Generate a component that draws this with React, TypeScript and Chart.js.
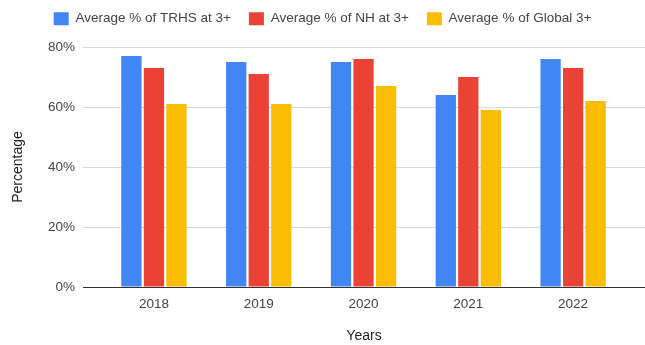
import React, { useEffect, useRef } from "react";
import { Chart, registerables } from "chart.js";

Chart.register(...registerables);

// Survey years and the three averages (percent of students scoring 3+)
const years = ["2018", "2019", "2020", "2021", "2022"];
const trhsAvg = [77, 75, 75, 64, 76];
const nhAvg = [73, 71, 76, 70, 73];
const globalAvg = [61, 61, 67, 59, 62];

const seriesNames = [
  "Average % of TRHS at 3+",
  "Average % of NH at 3+",
  "Average % of Global 3+",
];
const seriesColors = ["#4285F4", "#EA4335", "#FBBC04"];

const yTicks = [0, 20, 40, 60, 80];

const FONT = "'Liberation Sans', Arial, sans-serif";

// Makes the legend reserve extra room underneath it, pushing the plot area down
const legendSpacer = {
  id: "legendSpacer",
  beforeInit(chart: any) {
    const legend = chart.legend;
    if (!legend) return;
    const originalFit = legend.fit;
    legend.fit = function fit() {
      originalFit.bind(legend)();
      this.height = 53;
    };
  },
};

export default function App() {
  const canvasRef = useRef<HTMLCanvasElement | null>(null);

  useEffect(() => {
    if (!canvasRef.current) return;
    const chart = new Chart(canvasRef.current, {
      type: "bar",
      data: {
        labels: years,
        datasets: [trhsAvg, nhAvg, globalAvg].map((values, i) => ({
          label: seriesNames[i],
          data: values,
          backgroundColor: seriesColors[i],
          borderWidth: 0,
          categoryPercentage: 0.645,
          barPercentage: 0.9,
        })),
      },
      options: {
        animation: false,
        responsive: true,
        maintainAspectRatio: false,
        layout: { padding: { top: -6, left: 0, right: 0, bottom: 0 } },
        plugins: {
          tooltip: { enabled: false },
          legend: {
            position: "top",
            labels: {
              boxWidth: 15,
              boxHeight: 13,
              padding: 18,
              color: "#444",
              font: { family: FONT, size: 13.5 },
            },
          },
        },
        scales: {
          x: {
            grid: { display: false, drawTicks: false },
            border: { display: true, color: "#333", width: 1 },
            ticks: {
              color: "#444",
              padding: 9,
              font: { family: FONT, size: 13.5 },
              maxRotation: 0,
            },
            title: {
              display: true,
              text: "Years",
              color: "#222",
              font: { family: FONT, size: 14 },
              padding: { top: 0, bottom: 0 },
            },
            afterFit(scale: any) {
              scale.height = 58;
            },
            // Leave a margin at both ends of the category axis
            afterBuildTicks(scale: any) {
              scale._startValue = -0.677;
              scale._valueRange = 5.363;
            },
          },
          y: {
            min: 0,
            max: 80,
            afterBuildTicks(scale: any) {
              scale.ticks = yTicks.map((value) => ({ value }));
            },
            grid: {
              drawTicks: false,
              color: (ctx: any) => (ctx.tick && ctx.tick.value === 0 ? "#333" : "#d9d9d9"),
            },
            border: { display: false },
            ticks: {
              color: "#444",
              padding: 8,
              font: { family: FONT, size: 13.5 },
              callback: (v: any) => `${v}%`,
            },
            title: {
              display: true,
              text: "Percentage",
              color: "#222",
              font: { family: FONT, size: 14 },
              padding: { top: 10, bottom: 0 },
            },
            afterFit(scale: any) {
              scale.width = 83;
            },
          },
        },
      },
      plugins: [legendSpacer],
    });
    return () => chart.destroy();
  }, []);

  return (
    <div
      style={{
        position: "fixed",
        left: 0,
        top: 0,
        width: 645,
        height: 345,
        background: "#fff",
      }}
    >
      <canvas ref={canvasRef} />
    </div>
  );
}
